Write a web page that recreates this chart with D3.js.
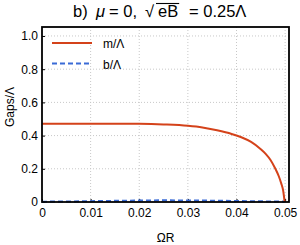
<!DOCTYPE html>
<html>
<head>
<meta charset="utf-8">
<script src="https://cdn.jsdelivr.net/npm/d3@7"></script>
<style>
  body { margin: 0; background: #fff; }
  svg { display: block; font-family: "Liberation Sans", Arial, sans-serif; }
</style>
</head>
<body>
<div id="chart"></div>
<script>
// gap data
const omegaM = [0, 0.005, 0.01, 0.015, 0.02, 0.025, 0.03, 0.033, 0.036, 0.039, 0.041, 0.043, 0.045, 0.046, 0.047, 0.048, 0.0487, 0.0492, 0.0496, 0.0499];
const mass   = [0.472, 0.472, 0.472, 0.472, 0.471, 0.467, 0.459, 0.449, 0.432, 0.41, 0.39, 0.362, 0.318, 0.29, 0.253, 0.2, 0.155, 0.112, 0.068, 0];
const omegaB = [0, 0.005, 0.01, 0.015, 0.02, 0.025, 0.03, 0.035, 0.04, 0.045, 0.048, 0.0499];
const bGap   = [0.002, 0.003, 0.005, 0.007, 0.009, 0.01, 0.0095, 0.008, 0.006, 0.004, 0.003, 0.002];
const xTicks = [0, 0.01, 0.02, 0.03, 0.04, 0.05];
const yTicks = [0, 0.2, 0.4, 0.6, 0.8, 1.0];
const legendLabels = ["m/Λ", "b/Λ"];

const width = 300, height = 245;
const margin = { top: 27, right: 11, bottom: 43, left: 42 };
const red = "#d4421a", blue = "#3a6bd6";

const svg = d3.select("#chart").append("svg")
    .attr("width", width)
    .attr("height", height);

const x = d3.scaleLinear().domain([0, 0.0508]).range([margin.left, width - margin.right]);
const y = d3.scaleLinear().domain([0, 1.054]).range([height - margin.bottom, margin.top]);

// dotted grid
svg.append("g").selectAll("line").data(xTicks.slice(1)).join("line")
    .attr("x1", d => x(d)).attr("x2", d => x(d))
    .attr("y1", y.range()[0]).attr("y2", y.range()[1])
    .attr("stroke", "#c8c8c8").attr("stroke-dasharray", "1,2");
svg.append("g").selectAll("line").data(yTicks.slice(1)).join("line")
    .attr("y1", d => y(d)).attr("y2", d => y(d))
    .attr("x1", x.range()[0]).attr("x2", x.range()[1])
    .attr("stroke", "#c8c8c8").attr("stroke-dasharray", "1,2");

// axes with inward ticks
const xAxis = d3.axisBottom(x).tickValues(xTicks).tickSize(-3).tickPadding(6)
    .tickFormat(d => d === 0 ? "0" : d3.format(".2f")(d));
const yAxis = d3.axisLeft(y).tickValues(yTicks).tickSize(-3).tickPadding(4)
    .tickFormat(d => d === 0 ? "0" : d3.format(".1f")(d));

const gx = svg.append("g").attr("transform", `translate(0,${y(0)})`).call(xAxis);
const gy = svg.append("g").attr("transform", `translate(${x(0)},0)`).call(yAxis);
[gx, gy].forEach(g => {
    g.select(".domain").remove();
    g.selectAll("line").attr("stroke", "#000");
    g.selectAll("text").attr("font-size", 12).attr("fill", "#000")
        .attr("font-family", "'Liberation Sans', Arial, sans-serif");
});

// curves
const line = d3.line().x(d => x(d[0])).y(d => y(d[1]));
svg.append("path")
    .datum(d3.zip(omegaB, bGap))
    .attr("d", line)
    .attr("fill", "none").attr("stroke", blue).attr("stroke-width", 2)
    .attr("stroke-dasharray", "5,3");
svg.append("path")
    .datum(d3.zip(omegaM, mass))
    .attr("d", line.curve(d3.curveMonotoneX))
    .attr("fill", "none").attr("stroke", red).attr("stroke-width", 2);

// frame
svg.append("rect")
    .attr("x", x.range()[0]).attr("y", y.range()[1])
    .attr("width", x.range()[1] - x.range()[0])
    .attr("height", y.range()[0] - y.range()[1])
    .attr("fill", "none").attr("stroke", "#000").attr("stroke-width", 1.8);

// legend
const legend = svg.append("g");
legendLabels.forEach((lab, i) => {
    const ly = 43 + i * 20.5;
    legend.append("line")
        .attr("x1", 52).attr("x2", 92).attr("y1", ly).attr("y2", ly)
        .attr("stroke", i === 0 ? red : blue).attr("stroke-width", 2)
        .attr("stroke-dasharray", i === 0 ? null : "5,3");
    legend.append("text")
        .attr("x", 103).attr("y", ly + 5)
        .attr("font-size", 12).text(lab);
});

// axis labels
svg.append("text")
    .attr("x", (x.range()[0] + x.range()[1]) / 2).attr("y", 242)
    .attr("text-anchor", "middle").attr("font-size", 12).text("ΩR");
svg.append("text")
    .attr("transform", "translate(14,107) rotate(-90)")
    .attr("text-anchor", "middle").attr("font-size", 12).text("Gaps/Λ");

// title: b) μ = 0, √eB = 0.25Λ
const title = svg.append("text").attr("y", 17).attr("font-size", 16.5);
title.append("tspan").attr("x", 73).text("b) ");
title.append("tspan").attr("x", 96).attr("font-style", "italic").text("μ");
title.append("tspan").attr("x", 109).text("= 0,");
title.append("tspan").attr("x", 145).text("√");
title.append("tspan").attr("x", 158).text("eB");
title.append("tspan").attr("x", 189).text("= 0.25Λ");
// overline of the radical above "eB"
const tNode = title.node();
const iE = tNode.textContent.indexOf("eB");
const start = tNode.getStartPositionOfChar(iE);
const end = tNode.getEndPositionOfChar(iE + 1);
svg.append("line")
    .attr("x1", start.x - 2).attr("x2", end.x + 1)
    .attr("y1", 3.5).attr("y2", 3.5)
    .attr("stroke", "#000").attr("stroke-width", 1.1);
</script>
</body>
</html>
